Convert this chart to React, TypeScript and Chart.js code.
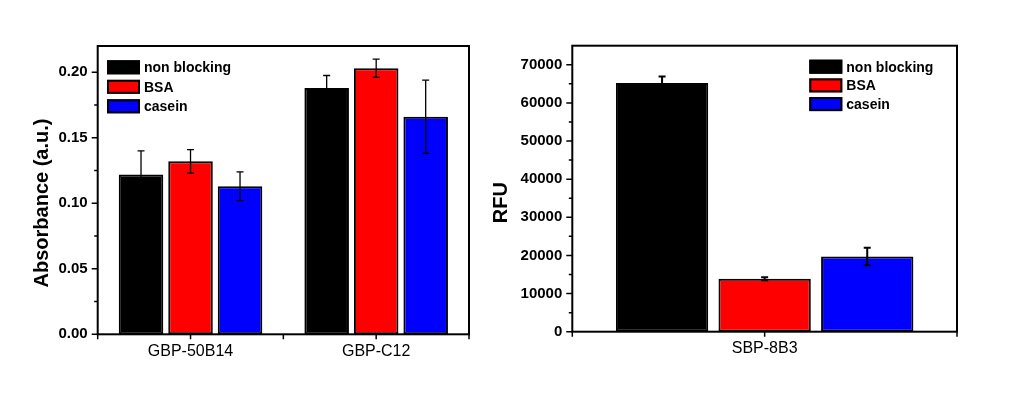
import React, { useEffect, useRef } from "react";
import { Chart, registerables } from "chart.js";

Chart.register(...registerables);

// ---- Data ----
const seriesNames = ["non blocking", "BSA", "casein"];
const seriesColors = ["#000000", "#ff0000", "#0000ff"];

const absCategories = ["GBP-50B14", "GBP-C12"];
const absTicks = [0, 0.05, 0.1, 0.15, 0.2];
const absNonBlocking = [0.122, 0.188];
const absNonBlockingErr = [0.018, 0.0095];
const absBSA = [0.132, 0.203];
const absBSAErr = [0.009, 0.007];
const absCasein = [0.113, 0.166];
const absCaseinErr = [0.011, 0.028];

const rfuCategories = ["SBP-8B3"];
const rfuTicks = [0, 10000, 20000, 30000, 40000, 50000, 60000, 70000];
const rfuNonBlocking = [65200];
const rfuNonBlockingErr = [1700];
const rfuBSA = [13900];
const rfuBSAErr = [400];
const rfuCasein = [19700];
const rfuCaseinErr = [2300];

const FONT = "'Liberation Sans', Arial, sans-serif";

type DecorParams = {
  errors: number[][];
  errWidth: number;
  capHalf: number;
  legendX: number;
  legendY: number;
  rowGap: number;
  title: string;
  titleX: number;
  titleY: number;
};

function makeDecor(p: DecorParams) {
  return {
    id: "decor",
    afterDatasetsDraw(chart: any) {
      const ctx = chart.ctx;
      const y = chart.scales.y;
      ctx.save();
      ctx.strokeStyle = "#000";
      ctx.lineWidth = p.errWidth;
      chart.data.datasets.forEach((ds: any, i: number) => {
        const meta = chart.getDatasetMeta(i);
        meta.data.forEach((bar: any, j: number) => {
          const v = ds.data[j];
          const e = p.errors[i][j];
          const x = bar.x;
          const yt = y.getPixelForValue(v + e);
          const yb = y.getPixelForValue(v - e);
          ctx.beginPath();
          ctx.moveTo(x, yt);
          ctx.lineTo(x, yb);
          ctx.moveTo(x - p.capHalf, yt);
          ctx.lineTo(x + p.capHalf, yt);
          ctx.moveTo(x - p.capHalf, yb);
          ctx.lineTo(x + p.capHalf, yb);
          ctx.stroke();
        });
      });
      ctx.restore();
    },
    afterDraw(chart: any) {
      const ctx = chart.ctx;
      const a = chart.chartArea;
      const y = chart.scales.y;
      const x = chart.scales.x;
      ctx.save();
      ctx.strokeStyle = "#000";
      // frame
      ctx.lineWidth = 2;
      ctx.strokeRect(a.left, a.top, a.right - a.left, a.bottom - a.top);
      // y ticks
      ctx.lineWidth = 1.5;
      const vals = y.ticks.map((t: any) => t.value);
      ctx.beginPath();
      vals.forEach((v: number, k: number) => {
        const py = y.getPixelForValue(v);
        ctx.moveTo(a.left, py);
        ctx.lineTo(a.left - 6, py);
        const step = k + 1 < vals.length ? vals[k + 1] - v : vals[1] - vals[0];
        const mv = v + step / 2;
        if (mv < y.max) {
          const pm = y.getPixelForValue(mv);
          ctx.moveTo(a.left, pm);
          ctx.lineTo(a.left - 3.5, pm);
        }
      });
      // x ticks
      const n = chart.data.labels.length;
      const half = (a.right - a.left) / n / 2;
      const xs: number[] = [a.left];
      for (let i = 0; i < n; i++) {
        const c = x.getPixelForValue(i);
        xs.push(c, c + half);
      }
      xs.forEach((px) => {
        ctx.moveTo(px, a.bottom);
        ctx.lineTo(px, a.bottom + 5);
      });
      ctx.stroke();
      // legend
      ctx.font = `bold 14px ${FONT}`;
      ctx.textBaseline = "middle";
      ctx.textAlign = "left";
      chart.data.datasets.forEach((ds: any, i: number) => {
        const cy = p.legendY + i * p.rowGap;
        ctx.fillStyle = ds.backgroundColor;
        ctx.fillRect(p.legendX, cy - 7, 33, 14);
        ctx.lineWidth = 2;
        ctx.strokeRect(p.legendX + 1, cy - 6, 31, 12);
        ctx.fillStyle = "#000";
        ctx.fillText(ds.label, p.legendX + 37, cy + 1);
      });
      // y title
      ctx.translate(p.titleX, p.titleY);
      ctx.rotate(-Math.PI / 2);
      ctx.font = `bold 20px ${FONT}`;
      ctx.textAlign = "center";
      ctx.fillStyle = "#000";
      ctx.fillText(p.title, 0, 0);
      ctx.restore();
    },
  };
}

function buildConfig(opts: {
  labels: string[];
  data: number[][];
  errors: number[][];
  max: number;
  tickValues: number[];
  fmt: (v: number) => string;
  pad: { left: number; top: number; right: number; bottom: number };
  yWidth: number;
  xHeight: number;
  xPad: number;
  decor: Omit<DecorParams, "errors">;
}) {
  return {
    type: "bar" as const,
    data: {
      labels: opts.labels,
      datasets: opts.data.map((d, i) => ({
        label: seriesNames[i],
        data: d,
        backgroundColor: seriesColors[i],
        borderColor: "#000",
        borderWidth: 2,
        borderSkipped: false,
        categoryPercentage: 0.8,
        barPercentage: 0.9,
      })),
    },
    options: {
      animation: false,
      responsive: false,
      devicePixelRatio: 1,
      layout: { padding: opts.pad },
      plugins: {
        legend: { display: false },
        tooltip: { enabled: false },
        title: { display: false },
      },
      scales: {
        x: {
          grid: { display: false, drawTicks: false },
          border: { display: false },
          ticks: {
            color: "#000",
            font: { family: FONT, size: 16 },
            padding: opts.xPad,
            maxRotation: 0,
          },
          afterFit: (s: any) => {
            s.height = opts.xHeight;
          },
        },
        y: {
          min: 0,
          max: opts.max,
          grid: { display: false, drawTicks: false },
          border: { display: false },
          afterBuildTicks: (s: any) => {
            s.ticks = opts.tickValues.map((v) => ({ value: v }));
          },
          ticks: {
            color: "#000",
            font: { family: FONT, size: 15, weight: "bold" },
            padding: 10,
            autoSkip: false,
            callback: (v: any) => opts.fmt(Number(v)),
          },
          afterFit: (s: any) => {
            s.width = opts.yWidth;
          },
        },
      },
    },
    plugins: [makeDecor({ ...opts.decor, errors: opts.errors })],
  };
}

function ChartCanvas({ config, width, height, left }: any) {
  const ref = useRef<HTMLCanvasElement | null>(null);
  useEffect(() => {
    if (!ref.current) return;
    const chart = new Chart(ref.current, config as any);
    return () => chart.destroy();
  }, []);
  return (
    <canvas
      ref={ref}
      width={width}
      height={height}
      style={{ position: "absolute", left, top: 0, width, height }}
    />
  );
}

export default function App() {
  const leftConfig = buildConfig({
    labels: absCategories,
    data: [absNonBlocking, absBSA, absCasein],
    errors: [absNonBlockingErr, absBSAErr, absCaseinErr],
    max: 0.22,
    tickValues: absTicks,
    fmt: (v) => v.toFixed(2),
    pad: { left: 0, top: 46, right: 11, bottom: 0 },
    yWidth: 97.7,
    xHeight: 66.7,
    xPad: 8,
    decor: {
      errWidth: 1.3,
      capHalf: 3.5,
      legendX: 107,
      legendY: 67.3,
      rowGap: 19.5,
      title: "Absorbance (a.u.)",
      titleX: 42.5,
      titleY: 203,
    },
  });
  const rightConfig = buildConfig({
    labels: rfuCategories,
    data: [rfuNonBlocking, rfuBSA, rfuCasein],
    errors: [rfuNonBlockingErr, rfuBSAErr, rfuCaseinErr],
    max: 75000,
    tickValues: rfuTicks,
    fmt: (v) => String(Math.round(v)),
    pad: { left: 0, top: 45.7, right: 78, bottom: 0 },
    yWidth: 92.3,
    xHeight: 69.3,
    xPad: 7,
    decor: {
      errWidth: 2,
      capHalf: 3.5,
      legendX: 329.3,
      legendY: 66.7,
      rowGap: 18.7,
      title: "RFU",
      titleX: 21,
      titleY: 202.7,
    },
  });
  return (
    <div
      style={{
        position: "absolute",
        left: 0,
        top: 0,
        width: 1035,
        height: 401,
        background: "#fff",
      }}
    >
      <ChartCanvas config={leftConfig} width={480} height={401} left={0} />
      <ChartCanvas config={rightConfig} width={555} height={401} left={480} />
    </div>
  );
}
